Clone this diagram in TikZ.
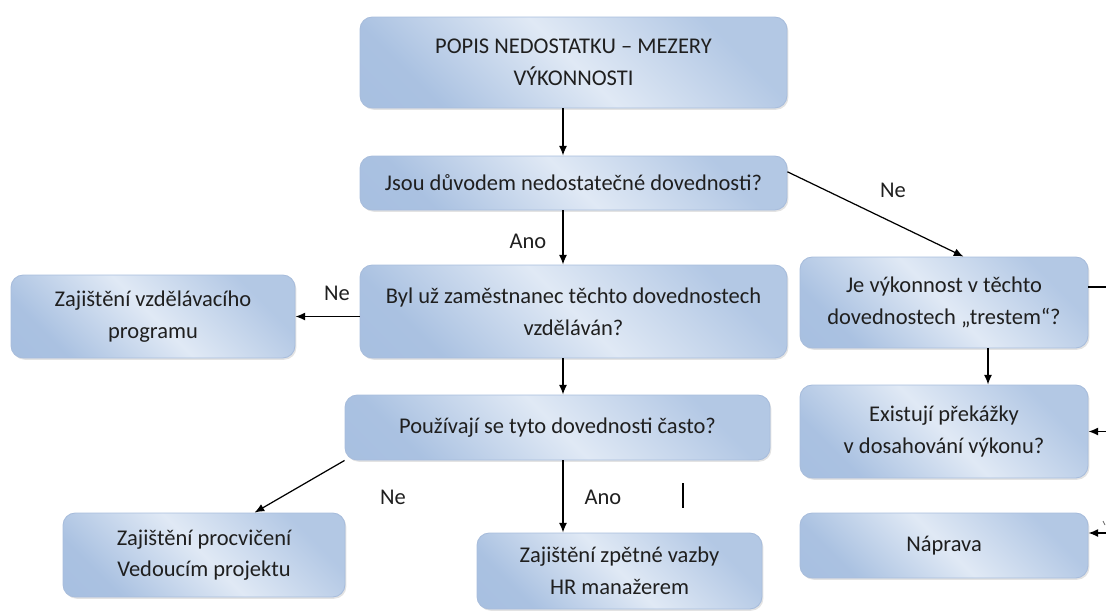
\documentclass[tikz,border=0pt]{standalone}
\usepackage{fontspec}
\setmainfont{Carlito}
\usepackage{tikz}
\usetikzlibrary{shapes, positioning, shadows, calc, arrows.meta}

\definecolor{boxdark}{HTML}{A4BDDF}
\definecolor{boxlight}{HTML}{E0E9F5}
\definecolor{boxline}{HTML}{A8BDDC}
\pgfdeclareverticalshading{boxfade}{100bp}{color(0bp)=(boxdark); color(26bp)=(boxdark!90!boxlight); color(50bp)=(boxlight); color(74bp)=(boxdark!75!boxlight); color(100bp)=(boxdark!75!boxlight)}

\begin{document}
\begin{tikzpicture}[x=0.02cm, y=-0.02cm,
		box/.style={draw=boxline, line width=0.5pt, rounded corners=7pt, shading=boxfade, shading angle=-45, align=center, inner sep=0pt, text=black!88, font=\fontsize{12.8}{18}\selectfont, drop shadow={shadow xshift=0.8pt, shadow yshift=-1pt, opacity=0.22}},
		boxsize/.style 2 args={minimum width={#1*0.02cm}, minimum height={#2*0.02cm}},
		link/.style={-{Latex[length=5.5pt, width=4.5pt]}, line width=0.7pt},
		tag/.style={inner sep=0pt, text=black!88, font=\fontsize{12.8}{18}\selectfont}]
			\useasboundingbox (0,0) rectangle (1106,610);
			
			% hlavni sloupec
			\node[box, boxsize={427}{91}] (popis) at (573.5,62.5) {POPIS NEDOSTATKU – MEZERY\\VÝKONNOSTI};
			\node[box, boxsize={427}{54}] (jsou) at (573.5,183) {Jsou důvodem nedostatečné dovednosti?};
			\node[box, boxsize={427}{93}] (byl) at (573.5,311.5) {Byl už zaměstnanec těchto dovednostech\\vzděláván?};
			\node[box, boxsize={425}{65}] (pouziti) at (557.5,427.5) {Používají se tyto dovednosti často?};
			
			% leva vetev
			\node[box, boxsize={284}{83}] (vzdelani) at (153,316.5) {Zajištění vzdělávacího\\programu};
			\node[box, boxsize={282}{84}] (procviceni) at (204,555) {Zajištění procvičení\\Vedoucím projektu};
			\node[box, boxsize={285}{76}] (zpetna) at (619.5,571) {Zajištění zpětné vazby\\HR manažerem};
			
			% prava vetev
			\node[box, boxsize={288}{91}] (trest) at (944,302.5) {Je výkonnost v těchto\\dovednostech „trestem“?};
			\node[box, boxsize={288}{93}] (prekazky) at (944,431.5) {Existují překážky\\v dosahování výkonu?};
			\node[box, boxsize={288}{65}] (naprava) at (944,545.5) {Náprava};
			
			% spojnice
			\coordinate (osa) at (563,0);
			\draw[link] (popis.south -| osa) -- (jsou.north -| osa);
			\draw[link] (jsou.south -| osa) -- (byl.north -| osa);
			\draw[link] (byl.south -| osa) -- (pouziti.north -| osa);
			\draw[link] (pouziti.south -| osa) -- (zpetna.north -| osa);
			\draw[link] (jsou.3) -- (trest.67);
			\draw[link] (byl.west |- vzdelani.east) -- (vzdelani.east);
			\draw[link] (pouziti.south west) -- (procviceni.40);
			\draw[link] (trest.south -| 988,0) -- (prekazky.north -| 988,0);
			
			% okraj vpravo
			\coordinate (vystupA) at (1106,287);
			\coordinate (vstupB) at (1106,431.5);
			\coordinate (vstupC) at (1106,533);
			\draw[line width=0.7pt] (vystupA -| trest.east) -- (vystupA);
			\draw[link] (vstupB) -- (prekazky.east);
			\draw[link] (vstupC) -- (vstupC -| naprava.east);
			\draw[line width=0.5pt, black!60] (1103,521) -- (1105,525);
			
			% popisky
			\node[tag] (ano1) at (528,241) {Ano};
			\node[tag] (ne1) at (893,190) {Ne};
			\node[tag] (ne2) at (337,293) {Ne};
			\node[tag] (ne3) at (393,497) {Ne};
			\node[tag] (ano2) at (603,497) {Ano};
			\draw[line width=1.6pt] (683,483) -- (683,508);
		\end{tikzpicture}
\end{document}
